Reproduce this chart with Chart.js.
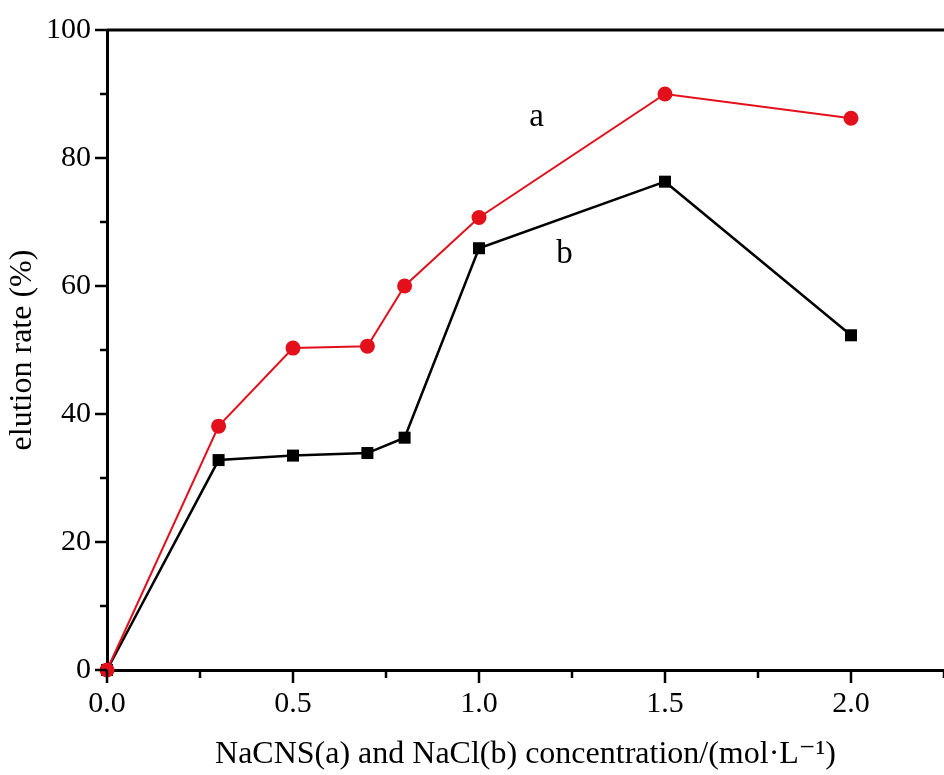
<!DOCTYPE html>
<html lang="en">
<head>
  <meta charset="UTF-8" />
  <title>elution rate</title>
  <script src="https://cdn.jsdelivr.net/npm/chart.js@4"></script>
  <style>
    html, body { margin: 0; padding: 0; background: #fff; }
    .wrap { width: 944px; height: 775px; }
  </style>
</head>
<body>
<div class="wrap"><canvas id="chart" width="944" height="775"></canvas></div>
<script>
  // concentration (mol/L)
  const conc = [0, 0.3, 0.5, 0.7, 0.8, 1.0, 1.5, 2.0];
  // a: NaCNS, b: NaCl
  const rateA = [0, 38.1, 50.3, 50.6, 60.0, 70.7, 90.0, 86.2];
  const rateB = [0, 32.8, 33.5, 33.9, 36.3, 65.9, 76.3, 52.3];

  // curve labels, placed in data units
  const curveNames = ['a', 'b'];
  const curveLabelX = [1.155, 1.23];
  const curveLabelY = [86.4, 65.0];

  const serif = '"Liberation Serif", "DejaVu Serif", serif';

  const toXY = (xs, ys) => xs.map((x, i) => ({ x: x, y: ys[i] }));

  // tick marks drawn outside the axes, long for major, short for minor
  const tickMarks = {
    id: 'tickMarks',
    afterDraw(chart) {
      const ctx = chart.ctx;
      const xs = chart.scales.x, ys = chart.scales.y;
      const area = chart.chartArea;
      ctx.save();
      ctx.strokeStyle = '#000';
      ctx.lineWidth = 2.5;
      xs.ticks.forEach(t => {
        const major = Math.abs(t.value / 0.5 - Math.round(t.value / 0.5)) < 1e-6;
        const px = xs.getPixelForValue(t.value);
        ctx.beginPath();
        ctx.moveTo(px, area.bottom);
        ctx.lineTo(px, area.bottom + (major ? 13 : 8));
        ctx.stroke();
      });
      ys.ticks.forEach(t => {
        const major = t.value % 20 === 0;
        const py = ys.getPixelForValue(t.value);
        ctx.beginPath();
        ctx.moveTo(area.left, py);
        ctx.lineTo(area.left - (major ? 12 : 7), py);
        ctx.stroke();
      });
      // top frame line
      ctx.lineWidth = 3;
      ctx.beginPath();
      ctx.moveTo(area.left, area.top);
      ctx.lineTo(area.right, area.top);
      ctx.stroke();
      ctx.restore();
    }
  };

  const curveLabels = {
    id: 'curveLabels',
    afterDatasetsDraw(chart) {
      const ctx = chart.ctx;
      ctx.save();
      ctx.fillStyle = '#000';
      ctx.font = '33px ' + serif;
      ctx.textAlign = 'center';
      ctx.textBaseline = 'middle';
      curveNames.forEach((n, i) => {
        ctx.fillText(n,
          chart.scales.x.getPixelForValue(curveLabelX[i]),
          chart.scales.y.getPixelForValue(curveLabelY[i]));
      });
      ctx.restore();
    }
  };

  new Chart(document.getElementById('chart'), {
    type: 'line',
    data: {
      datasets: [{
        label: 'a',
        data: toXY(conc, rateA),
        borderColor: '#e3101c',
        backgroundColor: '#e3101c',
        borderWidth: 2,
        pointStyle: 'circle',
        pointRadius: 7.5,
        pointBorderWidth: 0,
        tension: 0,
        clip: false
      }, {
        label: 'b',
        data: toXY(conc, rateB),
        borderColor: '#000',
        backgroundColor: '#000',
        borderWidth: 2.5,
        pointStyle: 'rect',
        pointRadius: 8.5,
        pointBorderWidth: 0,
        tension: 0,
        clip: false
      }]
    },
    options: {
      responsive: false,
      animation: false,
      layout: { autoPadding: false, padding: { top: 30, right: 0, left: 0, bottom: 0 } },
      plugins: { legend: { display: false }, tooltip: { enabled: false } },
      scales: {
        x: {
          type: 'linear',
          min: 0,
          max: 2.25,
          afterFit: s => { s.height = 105; s.paddingLeft = 0; s.paddingRight = 0; },
          border: { display: true, color: '#000', width: 3 },
          grid: { display: true, drawOnChartArea: false, drawTicks: false },
          ticks: {
            stepSize: 0.25,
            padding: 16,
            color: '#000',
            font: { family: serif, size: 30 },
            maxRotation: 0,
            autoSkip: false,
            callback: v => (Math.abs(v / 0.5 - Math.round(v / 0.5)) < 1e-6 ? v.toFixed(1) : '')
          },
          title: {
            display: true,
            text: 'NaCNS(a) and NaCl(b) concentration/(mol·L⁻¹)',
            color: '#000',
            font: { family: serif, size: 32 },
            padding: { top: 0, bottom: 1 }
          }
        },
        y: {
          min: 0,
          max: 100,
          afterFit: s => { s.width = 107; s.paddingTop = 0; s.paddingBottom = 0; },
          border: { display: true, color: '#000', width: 3 },
          grid: { display: true, drawOnChartArea: false, drawTicks: false },
          ticks: {
            stepSize: 10,
            padding: 16,
            color: '#000',
            font: { family: serif, size: 30 },
            autoSkip: false,
            callback: v => (v % 20 === 0 ? String(v) : '')
          },
          title: {
            display: true,
            text: 'elution rate (%)',
            color: '#000',
            font: { family: serif, size: 32 },
            padding: { top: 3, bottom: 0 }
          }
        }
      }
    },
    plugins: [tickMarks, curveLabels]
  });
</script>
</body>
</html>
